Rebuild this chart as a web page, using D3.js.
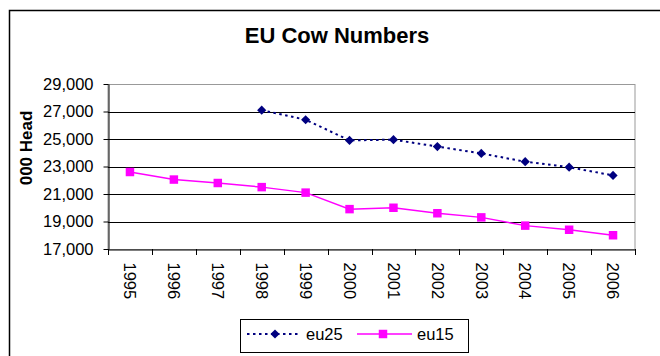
<!DOCTYPE html>
<html><head><meta charset="utf-8">
<script src="https://cdn.jsdelivr.net/npm/d3@7"></script>
<style>body{margin:0;background:#fff}svg{display:block}text{font-family:"Liberation Sans",Arial,sans-serif}</style>
</head><body>
<script>
const years = ["1995","1996","1997","1998","1999","2000","2001","2002","2003","2004","2005","2006"];
const eu25 = [null,null,null,27100,26400,24900,24950,24450,23950,23350,22950,22350];
const eu15 = [22600,22050,21800,21500,21100,19900,20000,19600,19300,18700,18400,18000];
const yTicks = [17000,19000,21000,23000,25000,27000,29000];

const W=660,H=356,FS=16.5;
const svg=d3.select("body").append("svg").attr("width",W).attr("height",H);
svg.append("rect").attr("x",9.5).attr("y",10.5).attr("width",700).attr("height",400).attr("fill","#fff").attr("stroke","#000").attr("stroke-width",1.5);

const L=108,R=635,T=84,B=249;
const x=d3.scaleBand().domain(years).range([L,R]);
const y=d3.scaleLinear().domain([17000,29000]).range([B,T]);

svg.append("text").attr("x",337).attr("y",43).attr("text-anchor","middle").attr("font-weight","bold").attr("font-size",22).text("EU Cow Numbers");

// plot border
svg.append("rect").attr("x",L).attr("y",T+0.5).attr("width",R-L).attr("height",B-T).attr("fill","none").attr("stroke","#999").attr("stroke-width",1);
// gridlines
svg.append("g").selectAll("line").data(yTicks.filter(d=>d>17000&&d<29000)).join("line")
  .attr("x1",L).attr("x2",R).attr("y1",d=>Math.round(y(d))+0.5).attr("y2",d=>Math.round(y(d))+0.5).attr("stroke","#000");

// y axis
const ya=svg.append("g").attr("transform",`translate(${L+0.5},0)`).call(d3.axisLeft(y).tickValues(yTicks).tickFormat(d3.format(",")).tickSize(5).tickSizeOuter(0));
ya.select(".domain").attr("stroke","#000");
ya.selectAll("text").attr("font-size",FS).attr("fill","#000").attr("font-family","Liberation Sans, Arial, sans-serif").attr("x",-15);
// x axis
const xa=svg.append("g").attr("transform",`translate(0,${B+0.5})`).call(d3.axisBottom(x).tickSize(0).tickSizeOuter(0));
xa.select(".domain").attr("stroke","#000");
xa.selectAll("text").attr("font-size",FS).attr("fill","#000").attr("font-family","Liberation Sans, Arial, sans-serif")
  .attr("transform","rotate(90)").attr("x",13).attr("y",0).attr("dy","0.35em").attr("text-anchor","start");
svg.append("g").selectAll("line").data(years.map(d=>x(d)).concat([R])).join("line")
  .attr("x1",d=>Math.round(d)+0.5).attr("x2",d=>Math.round(d)+0.5).attr("y1",B).attr("y2",B+6).attr("stroke","#000");

svg.append("text").attr("transform","translate(31.5,148) rotate(-90)").attr("text-anchor","middle").attr("font-weight","bold").attr("font-size",17).text("000 Head");

const cx=d=>x(d)+x.bandwidth()/2;
const line=d3.line().defined(d=>d[1]!=null).x(d=>cx(d[0])).y(d=>y(d[1]));
const d25=years.map((k,i)=>[k,eu25[i]]), d15=years.map((k,i)=>[k,eu15[i]]);
svg.append("path").datum(d15).attr("d",line).attr("fill","none").attr("stroke","#ff00ff").attr("stroke-width",1.5);
svg.append("path").datum(d25).attr("d",line).attr("fill","none").attr("stroke","#000080").attr("stroke-width",2).attr("stroke-dasharray","2.5,3.5");
const sq=d3.symbol().type(d3.symbolSquare).size(72);
const dm=d3.symbol().type(d3.symbolSquare).size(42);
svg.append("g").selectAll("path").data(d15).join("path").attr("d",sq).attr("transform",d=>`translate(${cx(d[0])},${y(d[1])})`).attr("fill","#ff00ff");
svg.append("g").selectAll("path").data(d25.filter(d=>d[1]!=null)).join("path").attr("d",dm).attr("transform",d=>`translate(${cx(d[0])},${y(d[1])}) rotate(45)`).attr("fill","#000080");

// legend
const lg=svg.append("g");
lg.append("rect").attr("x",240.5).attr("y",319.5).attr("width",228).attr("height",33).attr("fill","#fff").attr("stroke","#000");
lg.append("line").attr("x1",247).attr("x2",299).attr("y1",334).attr("y2",334).attr("stroke","#000080").attr("stroke-width",2).attr("stroke-dasharray","2.5,3.5");
lg.append("path").attr("d",dm).attr("transform","translate(275,334) rotate(45)").attr("fill","#000080");
lg.append("text").attr("x",306).attr("y",340).attr("font-size",FS).text("eu25");
lg.append("line").attr("x1",357).attr("x2",412).attr("y1",334).attr("y2",334).attr("stroke","#ff00ff").attr("stroke-width",1.5);
lg.append("path").attr("d",sq).attr("transform","translate(383,334)").attr("fill","#ff00ff");
lg.append("text").attr("x",417).attr("y",340).attr("font-size",FS).text("eu15");
</script>
</body></html>
